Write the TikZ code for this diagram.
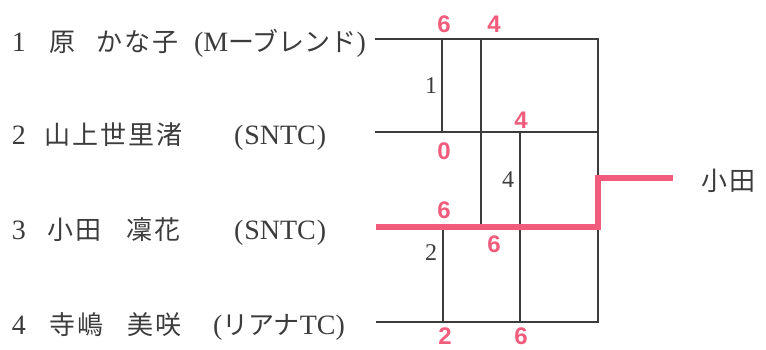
\documentclass[tikz,border=0pt]{standalone}
\usepackage{fontspec}
\setmainfont{Liberation Serif}
\newfontfamily\jpfont[LetterSpace=8]{Noto Sans CJK JP}
\newfontfamily\jpkfont{Noto Sans CJK JP}
\newfontfamily\scorefont{Liberation Sans}
\definecolor{pinkline}{RGB}{241,92,124}
\definecolor{inkgray}{RGB}{60,60,60}
\newcommand\nmsize{\fontsize{28}{32}\selectfont}
\newcommand\J[1]{{\fontsize{26}{30}\selectfont\jpfont #1}}
\newcommand\K[1]{{\fontsize{26}{30}\selectfont\jpkfont #1}}
\tikzset{
  bline/.style={draw=inkgray, line width=2pt},
  pline/.style={draw=pinkline, line width=6.5pt, line join=miter},
  lbl/.style={anchor=base west, inner sep=0pt, outer sep=0pt, text=inkgray, font=\nmsize},
  score/.style={inner sep=0pt, text=pinkline, font=\scorefont\bfseries\fontsize{24}{28}\selectfont},
  gnum/.style={inner sep=0pt, text=inkgray, font=\fontsize{24}{28}\selectfont}
}
\begin{document}
\begin{tikzpicture}[x=1pt,y=-1pt]
\useasboundingbox (0,0) rectangle (766,349);
% players
\node[lbl] (n1) at (12,51) {1};
\node[lbl] (p1a) at (49,51) {\J{原}};
\node[lbl] (p1b) at (96,51) {\J{かな子}};
\node[lbl] (t1) at (194,51) {(M\K{ーブレンド})};
\node[lbl] (n2) at (12,144) {2};
\node[lbl] (p2a) at (44,144) {\J{山上世里渚}};
\node[lbl] (t2) at (234,144) {(\kern1pt SNTC\kern1pt)};
\node[lbl] (n3) at (12,239) {3};
\node[lbl] (p3a) at (47,239) {\J{小田}};
\node[lbl] (p3b) at (126,239) {\J{凜花}};
\node[lbl] (t3) at (234,239) {(\kern1pt SNTC\kern1pt)};
\node[lbl] (n4) at (12,334) {4};
\node[lbl] (p4a) at (49,334) {\J{寺嶋}};
\node[lbl] (p4b) at (127,334) {\J{美咲}};
\node[lbl] (t4) at (213,334) {(\K{リアナ}TC)};
\node[lbl] (win) at (701,190) {\J{小田}};
% bracket coordinates
\coordinate (r1a) at (375,39);  \coordinate (r1b) at (598,39);
\coordinate (r2a) at (375,132); \coordinate (r2b) at (598,132);
\coordinate (r3a) at (376,227); \coordinate (r3b) at (598,227);
\coordinate (w1) at (598,178);  \coordinate (w2) at (673,178);
\coordinate (r4a) at (376,322); \coordinate (r4b) at (598,322);
\coordinate (v1t) at (442,39);  \coordinate (v1b) at (442,132);
\coordinate (v2t) at (481,39);  \coordinate (v2b) at (481,225);
\coordinate (v3t) at (520,132); \coordinate (v3b) at (520,322);
\coordinate (v4t) at (443,227); \coordinate (v4b) at (443,322);
% black lines
\draw[bline] (r1a) -- (r1b) -- (r4b) -- (r4a);
\draw[bline] (r2a) -- (r2b);
\draw[bline] (v1t) -- (v1b);
\draw[bline] (v2t) -- (v2b);
\draw[bline] (v3t) -- (v3b);
\draw[bline] (v4t) -- (v4b);
% winner path
\draw[pline] (r3a) -- (r3b) -- (w1) -- (w2);
% match numbers
\node[gnum] (m1) at (431,86) {1};
\node[gnum] (m2) at (431,253) {2};
\node[gnum] (m4) at (508,180) {4};
% scores
\node[score] (s1) at (444,24) {6};
\node[score] (s2) at (494,24) {4};
\node[score] (s3) at (521,120) {4};
\node[score] (s4) at (444,151) {0};
\node[score] (s5) at (444,210) {6};
\node[score] (s6) at (494,244) {6};
\node[score] (s7) at (445,336.5) {2};
\node[score] (s8) at (521,336.5) {6};
\end{tikzpicture}
\end{document}
